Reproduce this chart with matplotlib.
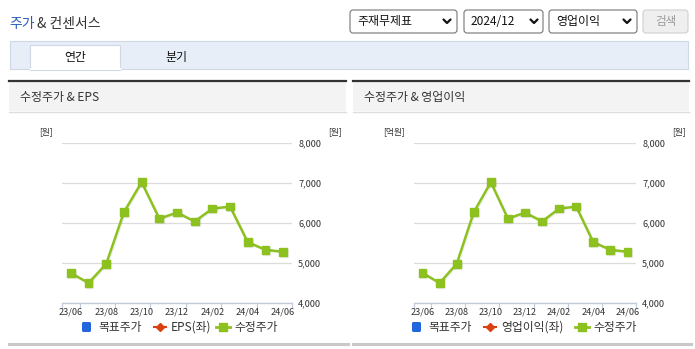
import numpy as np
import matplotlib
matplotlib.use('Agg')
import matplotlib.pyplot as plt
import matplotlib.patheffects as pe
from matplotlib.patches import Rectangle, FancyBboxPatch

plt.rcParams['font.family'] = ['Noto Sans CJK KR', 'DejaVu Sans']

# ---------------------------------------------------------------
# data
months = ['23/06', '23/07', '23/08', '23/09', '23/10', '23/11', '23/12',
          '24/01', '24/02', '24/03', '24/04', '24/05', '24/06']
price = [4750, 4500, 4980, 6270, 7020, 6110, 6260, 6040, 6360, 6410, 5520, 5330, 5280]
y_ticks = [4000, 5000, 6000, 7000, 8000]
panel_titles = ['수정주가 & EPS', '수정주가 & 영업이익']
left_units = ['[원]', '[억원]']
legend_mid = ['EPS(좌)', '영업이익(좌)']

GREEN = '#8cc11f'
BLUE = '#2266dd'
RED = '#d9400f'
TXT = '#333333'

W, H = 695, 349
fig = plt.figure(figsize=(W / 100, H / 100), dpi=100)
bg = fig.add_axes([0, 0, 1, 1])
bg.set_xlim(0, W)
bg.set_ylim(H, 0)
bg.axis('off')

# ---------------------------------------------------------------
# top header
bg.text(9, 24, '주가', color='#2a5cc0', fontsize=10, va='center', ha='left')
bg.text(37, 24, '& 컨센서스', color=TXT, fontsize=10, va='center', ha='left')

boxes = [(350, 457, '주재무제표', 447), (464, 543, '2024/12', 534), (549, 637, '영업이익', 627)]
for x0, x1, lab, cx in boxes:
    bg.add_patch(FancyBboxPatch((x0, 10), x1 - x0, 23, boxstyle='round,pad=0,rounding_size=3',
                                fc='white', ec='#767676', lw=0.8))
    bg.text(x0 + 7, 21.5, lab, fontsize=8.6, color='#111111', va='center', ha='left')
    bg.plot([cx - 3.5, cx, cx + 3.5], [19.5, 23, 19.5], color='#111111', lw=1.6,
            solid_capstyle='round', solid_joinstyle='round')
bg.add_patch(FancyBboxPatch((643, 10), 45, 23, boxstyle='round,pad=0,rounding_size=3',
                            fc='#efefef', ec='#cfcfcf', lw=0.8))
bg.text(665.5, 21.5, '검색', fontsize=8.3, color='#9a9a9a', va='center', ha='center')

# tabs
bg.add_patch(Rectangle((10, 40.5), 678, 28.5, fc='#e8eef8', ec='#cfd8e6', lw=0.8))
bg.add_patch(Rectangle((30, 45), 90, 24.5, fc='white', ec='#cfd8e6', lw=0.8))
bg.plot([30.5, 119.5], [69, 69], color='white', lw=1.5)
bg.text(75, 57, '연간', fontsize=8.6, color='#111111', va='center', ha='center')
bg.text(176, 57, '분기', fontsize=8.6, color='#111111', va='center', ha='center')

# ---------------------------------------------------------------
# panels
panels = [
    dict(x0=9, x1=346, plot=(62, 292), unit_x=46, runit_x=335),
    dict(x0=353, x1=689, plot=(414, 636), unit_x=394, runit_x=679),
]

for i, p in enumerate(panels):
    bg.add_patch(Rectangle((p['x0'], 81), p['x1'] - p['x0'], 30, fc='#f3f3f3', ec='none'))
    bg.plot([p['x0'], p['x1']], [81, 81], color='#333333', lw=1.6)
    bg.plot([p['x0'], p['x1']], [111.5, 111.5], color='#dddddd', lw=1)
    bg.text(p['x0'] + 11, 98, panel_titles[i], fontsize=8.6, color=TXT, va='center', ha='left')
    bg.plot([p['x0'], p['x1'] + 2], [344, 344], color='#c8c8c8', lw=2.2)

    bg.text(p['unit_x'], 132, left_units[i], fontsize=6.3, color=TXT, va='center', ha='center')
    bg.text(p['runit_x'], 132, '[원]', fontsize=6.3, color=TXT, va='center', ha='center')

    px0, px1 = p['plot']
    ax = fig.add_axes([px0 / W, (H - 303) / H, (px1 - px0) / W, 160 / H])
    ax.patch.set_alpha(0)
    x = np.arange(len(price))
    ax.set_xlim(-0.5, len(price) - 0.5)
    ax.set_ylim(y_ticks[0], y_ticks[-1])
    for s in ['top', 'left', 'right']:
        ax.spines[s].set_visible(False)
    ax.spines['bottom'].set_color('#c0cbd9')
    ax.spines['bottom'].set_linewidth(1)

    ax.yaxis.tick_right()
    ax.set_yticks(y_ticks)
    ax.set_yticklabels([f'{v:,}' for v in y_ticks])
    ax.tick_params(axis='y', length=0, pad=4.5, labelsize=6.6, labelcolor=TXT)
    ax.grid(axis='y', color='#dcdcdc', lw=0.9)
    ax.set_axisbelow(True)

    bounds = [-0.5] + [k + 0.5 for k in range(0, len(price), 2)]
    ax.set_xticks(bounds)
    ax.set_xticklabels([''] * len(bounds))
    ax.tick_params(axis='x', which='major', length=3.5, width=0.8, color='#c0cbd9')
    ax.set_xticks(x[::2], minor=True)
    ax.set_xticklabels(months[::2], minor=True)
    ax.tick_params(axis='x', which='minor', length=0, pad=3, labelsize=6.6, labelcolor=TXT)

    ax.plot(x, price, color=GREEN, lw=1.8, marker='s', markersize=5.6, clip_on=False,
            path_effects=[pe.SimpleLineShadow(offset=(0.7, -0.7), shadow_color='black', alpha=0.07),
                          pe.Normal()])

    # legend
    lx = px0 + 20 if i == 0 else px0 - 2
    ly = 327
    bg.add_patch(FancyBboxPatch((lx, ly - 5), 9, 10, boxstyle='round,pad=0,rounding_size=1.5',
                                fc=BLUE, ec='none'))
    bg.text(lx + 16, ly, '목표주가', fontsize=8.5, color=TXT, va='center', ha='left')
    rx = lx + 72
    bg.plot([rx, rx + 12], [ly, ly], color=RED, lw=1.5)
    bg.plot([rx + 6], [ly], marker='D', color=RED, markersize=4)
    bg.text(rx + 17, ly, legend_mid[i], fontsize=8.5, color=TXT, va='center', ha='left')
    gx = 216 if i == 0 else 575
    bg.plot([gx, gx + 14], [ly, ly], color=GREEN, lw=2)
    bg.plot([gx + 7], [ly], marker='s', color=GREEN, markersize=5.5)
    bg.text(gx + 18, ly, '수정주가', fontsize=8.5, color=TXT, va='center', ha='left')

plt.savefig('out.png', dpi=100)
